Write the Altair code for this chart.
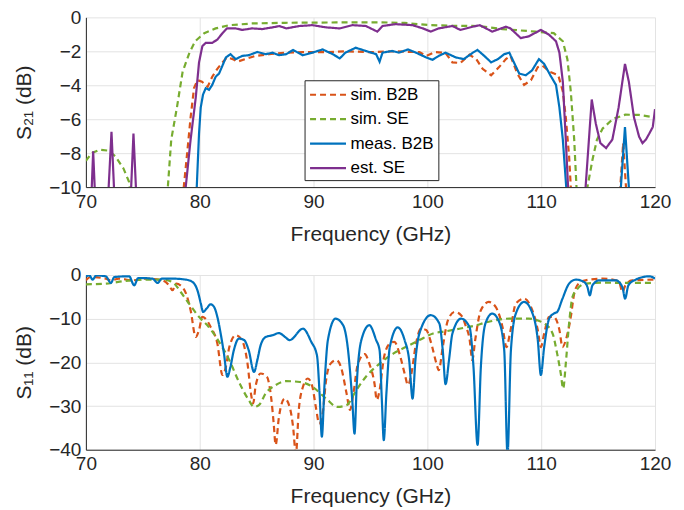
import altair as alt
import pandas as pd

SERIES = ["sim. B2B", "sim. SE", "meas. B2B", "est. SE"]
COLORS = ["#D95319", "#77AC30", "#0072BD", "#7E2F8E"]
DASHES = [[6, 4], [6, 4], [1, 0], [1, 0]]
X_TICKS = [70, 80, 90, 100, 110, 120]
S21_TICKS = [0, -2, -4, -6, -8, -10]
S11_TICKS = [0, -10, -20, -30, -40]

# ---------------- S21 (top) ----------------
s21_simb2b_f = [70, 78.5, 78.6, 78.9, 79.2, 79.5, 79.8, 80.2, 80.7, 81.1, 81.55, 82.0, 82.4, 82.9, 83.3, 84.0, 84.9, 86.1, 87.5, 89, 91, 93, 95, 97, 99.3, 99.9, 100.7, 101.6, 102.2, 102.9, 103.7, 104.3, 104.85, 105.6, 106.3, 106.9, 107.3, 107.9, 108.5, 109.1, 109.7, 110.1, 110.8, 111.5, 111.9, 112.16, 112.45, 112.6, 112.8, 116.8, 116.95, 117.2, 117.45, 117.6, 120]
s21_simb2b_db = [-12, -12, -10, -7.98, -5.89, -4.17, -3.7, -3.79, -4.08, -3.5, -3.03, -2.65, -2.36, -2.46, -2.61, -2.46, -2.27, -2.17, -2.08, -2.05, -2.05, -2.0, -2.05, -2.0, -2.05, -2.27, -2.04, -2.1, -2.65, -2.69, -2.2, -2.46, -3.03, -3.41, -2.93, -2.46, -2.27, -3.31, -3.98, -3.7, -2.93, -2.84, -3.22, -3.41, -4.36, -5.89, -8.17, -10, -12, -12, -10, -7.4, -10, -12, -12]

s21_simse_f = [70, 70.5, 71.2, 72.0, 72.6, 73.3, 73.8, 74.0, 77.0, 77.2, 77.5, 78.0, 78.5, 79.1, 79.6, 80.4, 81.4, 82.6, 84.6, 87.5, 92, 95.8, 98, 100.2, 102.5, 104.5, 106.6, 109.5, 111.1, 111.9, 112.3, 112.6, 112.9, 113.1, 113.3, 113.9, 114.06, 114.5, 114.9, 115.4, 116.3, 117.4, 118.6, 120]
s21_simse_db = [-8.46, -8.0, -7.8, -7.85, -8.2, -8.9, -9.7, -11, -11, -10, -7.2, -5.3, -3.2, -2.08, -1.41, -0.93, -0.65, -0.46, -0.36, -0.32, -0.3, -0.29, -0.33, -0.46, -0.5, -0.51, -0.69, -0.84, -0.93, -1.41, -2.46, -4.36, -7.2, -10, -11, -11, -10, -8.4, -7.2, -6.55, -5.98, -5.73, -5.75, -5.9]

s21_meas_f = [70, 79.6, 79.74, 79.94, 80.09, 80.29, 80.53, 80.82, 81.1, 81.4, 81.7, 82.0, 82.3, 82.7, 83.16, 83.74, 84.3, 85.06, 85.8, 86.4, 86.96, 87.6, 88.2, 89.05, 89.9, 90.8, 91.7, 92.3, 92.8, 93.7, 94.6, 95.5, 95.8, 96.06, 96.9, 97.5, 98.3, 99.0, 99.9, 100.45, 101.0, 101.6, 102.5, 103.2, 104.0, 104.4, 105.0, 105.6, 106.2, 106.75, 107.2, 107.6, 108.07, 108.65, 109.2, 109.8, 110.26, 110.8, 111.3, 111.6, 111.9, 112.2, 112.4, 116.9, 117.0, 117.36, 117.7, 117.8, 120]
s21_meas_db = [-12, -12, -10, -6.84, -5.31, -4.55, -4.17, -4.27, -3.98, -3.5, -3.31, -2.84, -2.36, -2.17, -2.46, -2.27, -2.23, -2.04, -2.17, -2.08, -2.23, -2.17, -1.92, -2.23, -2.08, -1.89, -2.17, -2.42, -2.08, -1.79, -1.98, -2.17, -2.61, -2.08, -1.98, -2.08, -1.89, -2.08, -2.36, -2.5, -2.27, -2.08, -2.36, -2.46, -2.08, -1.92, -2.27, -2.65, -2.46, -2.17, -2.08, -2.65, -3.31, -3.41, -3.12, -2.46, -2.74, -3.41, -3.98, -5.31, -7.2, -10, -12, -12, -10, -6.46, -10, -12, -12]

s21_est_f = [70, 70.4, 70.64, 70.9, 71.85, 72.25, 72.6, 73.85, 74.18, 74.53, 78.6, 78.77, 79.2, 79.65, 79.94, 80.23, 80.53, 81.1, 81.55, 82.0, 82.4, 83.16, 83.74, 84.6, 85.5, 86.4, 87.0, 87.6, 88.75, 89.9, 91.1, 92.3, 93.4, 94.6, 95.6, 96.06, 97.2, 98.7, 99.6, 100.3, 101.0, 102.2, 102.9, 104.0, 104.6, 105.7, 106.9, 107.3, 108.2, 108.9, 109.97, 110.7, 111.3, 111.6, 111.9, 112.16, 112.36, 112.6, 113.7, 113.9, 114.44, 114.8, 115.2, 115.7, 116.25, 116.8, 117.36, 117.7, 118.15, 118.6, 118.9, 119.2, 119.5, 119.8, 120]
s21_est_db = [-12, -12, -7.89, -12, -12, -6.74, -12, -12, -6.84, -12, -12, -10, -7.2, -4.74, -2.65, -1.7, -1.5, -1.5, -1.31, -0.93, -0.65, -0.65, -0.74, -0.65, -0.69, -0.59, -0.51, -0.65, -0.51, -0.46, -0.59, -0.65, -0.46, -0.51, -0.84, -0.51, -0.4, -0.46, -0.65, -0.84, -0.65, -0.51, -0.74, -0.55, -0.46, -0.84, -0.55, -0.65, -1.22, -1.12, -0.74, -1.03, -1.41, -2.08, -3.79, -7.2, -10, -12, -12, -10, -4.84, -6.27, -7.41, -7.7, -7.2, -5.31, -2.74, -3.79, -5.89, -7.03, -7.41, -7.2, -6.84, -6.46, -5.41]

# ---------------- S11 (bottom) ----------------
s11_simb2b_f = [70, 70.4, 71.75, 72.2, 72.9, 74.1, 75.3, 76.7, 77.3, 77.6, 77.95, 78.3, 78.8, 79.2, 79.65, 79.94, 80.23, 80.5, 80.96, 81.55, 82.0, 82.3, 82.6, 83.16, 83.7, 84.2, 84.5, 84.7, 84.9, 85.35, 85.9, 86.3, 86.5, 86.67, 86.96, 87.46, 87.9, 88.2, 88.45, 88.7, 89.07, 89.5, 89.9, 90.2, 90.5, 90.8, 91.1, 91.5, 92.0, 92.4, 92.9, 93.2, 93.5, 93.9, 94.5, 94.9, 95.35, 95.56, 95.8, 96.2, 96.7, 97.1, 97.55, 98.0, 98.3, 98.6, 99.0, 99.45, 99.9, 100.3, 100.8, 101.0, 101.35, 101.8, 102.4, 102.96, 103.4, 103.7, 103.95, 104.2, 104.7, 105.4, 106.0, 106.6, 106.95, 107.25, 107.77, 108.5, 109.1, 109.7, 109.97, 110.26, 110.7, 111.1, 111.6, 111.87, 112.16, 112.6, 112.9, 113.3, 113.9, 115.4, 116.55, 116.9, 117.13, 117.4, 118.0, 120]
s11_simb2b_db = [-1.22, -0.46, -0.84, -1.22, -0.84, -1.22, -0.84, -1.22, -2.36, -3.5, -1.98, -2.36, -4.27, -8.08, -14.2, -12.6, -9.6, -10.0, -11.9, -15.7, -22.9, -21.0, -16.5, -13.8, -14.9, -20.3, -27.1, -29.4, -25.6, -22.55, -23.3, -28.6, -34.0, -38.9, -32.5, -28.3, -30.2, -34.7, -41, -31.0, -25.6, -23.7, -25.6, -30.2, -34.0, -31.7, -24.1, -20.3, -19.5, -21.0, -27.1, -30.9, -27.1, -20.3, -18.1, -20.3, -24.8, -28.6, -26.4, -18.7, -15.7, -15.3, -18.0, -22.55, -25.2, -22.55, -15.7, -12.3, -12.6, -15.3, -20.3, -21.8, -16.5, -10.4, -8.46, -9.2, -11.9, -14.55, -19.5, -14.9, -8.08, -6.17, -7.31, -11.9, -16.5, -13.4, -6.55, -5.41, -7.31, -12.6, -16.5, -13.4, -9.6, -9.6, -12.6, -16.5, -14.9, -9.6, -4.27, -1.98, -1.22, -0.84, -1.22, -2.0, -3.9, -2.36, -1.22, -1.07]

s11_simse_f = [70, 71.75, 73.5, 75.26, 76.7, 77.6, 78.33, 79.06, 79.94, 80.8, 81.7, 82.6, 83.45, 84.3, 84.77, 85.2, 85.8, 86.67, 87.6, 88.8, 89.9, 91.1, 92.1, 92.9, 93.75, 94.6, 95.8, 97.0, 98.1, 99.3, 100.5, 101.6, 102.8, 104.0, 105.4, 107.2, 108.9, 110.26, 111.0, 111.4, 111.72, 111.93, 112.16, 112.45, 112.75, 113.2, 113.9, 115.4, 117.1, 120]
s11_simse_db = [-2.13, -1.98, -1.37, -1.07, -1.07, -1.6, -3.9, -6.55, -9.6, -11.9, -15.3, -19.5, -24.5, -28.6, -30.2, -29.8, -27.1, -25.2, -24.3, -24.5, -25.6, -28.3, -30.2, -29.8, -26.4, -23.3, -20.3, -18.0, -16.5, -14.9, -13.4, -12.9, -12.3, -11.7, -10.7, -10.0, -10.0, -11.1, -13.4, -18.0, -22.55, -26.0, -20.3, -11.1, -5.03, -3.12, -1.98, -1.75, -1.83, -1.83]

s11_meas_f = [70, 70.3, 70.6, 70.9, 71.75, 72.2, 72.5, 73.8, 74.24, 74.6, 75.85, 76.3, 76.67, 77.6, 78.8, 79.36, 79.8, 80.1, 80.3, 80.6, 80.96, 81.26, 81.55, 81.84, 82.13, 82.43, 82.7, 83.0, 83.45, 83.9, 84.3, 84.77, 85.06, 85.35, 85.8, 86.4, 86.96, 87.5, 87.9, 89.07, 89.8, 90.3, 90.53, 90.73, 90.97, 91.26, 91.93, 92.6, 93.0, 93.4, 93.6, 93.8, 94.2, 94.9, 95.5, 95.8, 96.0, 96.17, 96.4, 96.7, 97.4, 98.0, 98.4, 98.7, 98.95, 99.3, 100.3, 101.05, 101.35, 101.6, 101.9, 102.2, 102.96, 103.7, 104.05, 104.41, 104.7, 105.1, 105.7, 106.3, 106.75, 107.04, 107.34, 107.77, 108.5, 109.24, 109.7, 109.97, 110.26, 110.7, 111.1, 111.4, 111.87, 112.45, 113.04, 113.77, 114.06, 114.27, 114.5, 115.1, 116.55, 117.13, 117.37, 117.66, 118.3, 119.5, 120]
s11_meas_db = [-0.3, -0.1, -1.07, -0.1, -0.3, -1.83, -0.46, -0.3, -2.36, -0.69, -0.84, -1.83, -0.84, -0.84, -1.07, -1.6, -3.5, -6.55, -8.46, -7.7, -6.7, -7.31, -9.6, -13.4, -18.0, -23.3, -21.0, -17.2, -14.55, -14.9, -17.2, -22.2, -19.5, -16.1, -14.2, -13.8, -13.3, -14.2, -14.9, -12.3, -15.3, -18.4, -27.1, -37.0, -24.8, -14.9, -10.0, -11.5, -16.5, -28.6, -36.3, -24.8, -14.9, -11.5, -14.9, -17.2, -28.6, -37.8, -27.1, -16.5, -12.0, -14.9, -19.5, -28.3, -19.5, -13.4, -9.2, -11.1, -17.2, -25.0, -19.5, -13.4, -10.0, -11.9, -21.0, -38.9, -21.0, -11.1, -8.84, -10.7, -17.2, -41, -17.2, -8.84, -6.17, -8.84, -14.9, -22.9, -16.5, -10.0, -8.84, -8.46, -5.41, -1.98, -1.07, -1.6, -2.74, -4.65, -2.36, -1.22, -1.22, -2.74, -5.41, -2.36, -1.07, -0.3, -0.84]


def frame(f, v, name):
    return pd.DataFrame({"f": f, "db": v, "series": name})


top_df = pd.concat([
    frame(s21_simb2b_f, s21_simb2b_db, SERIES[0]),
    frame(s21_simse_f, s21_simse_db, SERIES[1]),
    frame(s21_meas_f, s21_meas_db, SERIES[2]),
    frame(s21_est_f, s21_est_db, SERIES[3]),
], ignore_index=True)
top_df["order"] = top_df.index

bot_df = pd.concat([
    frame(s11_simb2b_f, s11_simb2b_db, SERIES[0]),
    frame(s11_simse_f, s11_simse_db, SERIES[1]),
    frame(s11_meas_f, s11_meas_db, SERIES[2]),
], ignore_index=True)
bot_df["order"] = bot_df.index

color_scale = alt.Scale(domain=SERIES, range=COLORS)
dash_scale = alt.Scale(domain=SERIES, range=DASHES)

FONT = "Liberation Sans"
TXT = "#262626"

legend_top = alt.Legend(
    title=None, orient="none", legendX=219, legendY=63,
    symbolType="M-1,0H3", symbolSize=324, symbolStrokeWidth=2.2,
    labelFontSize=17, labelFont=FONT, labelColor="#000000",
    fillColor="white", strokeColor="#262626", padding=4,
    rowPadding=5.5, labelOffset=21,
)


def panel(df, names, ydomain, yticks, ytitle, legend, interp, h):
    layers = []
    for s in names:
        layers.append(
            alt.Chart(df)
            .transform_filter(alt.datum.series == s)
            .mark_line(clip=True, strokeWidth=2.2, interpolate=interp)
            .encode(
                x=alt.X("f:Q", scale=alt.Scale(domain=[70, 120], nice=False, zero=False),
                        axis=alt.Axis(values=X_TICKS, title="Frequency (GHz)")),
                y=alt.Y("db:Q", scale=alt.Scale(domain=ydomain, nice=False, zero=False),
                        axis=alt.Axis(values=yticks, title=ytitle)),
                color=alt.Color("series:N", scale=color_scale, legend=legend),
                strokeDash=alt.StrokeDash("series:N", scale=dash_scale, legend=legend),
                order="order:Q",
            )
        )
    return alt.layer(*layers).properties(width=570, height=h)


top = panel(top_df, SERIES, [-10, 0], S21_TICKS, "S\u2082\u2081 (dB)", legend_top, "linear", 170)
bottom = panel(bot_df, SERIES[:3], [-40, 0], S11_TICKS, "S\u2081\u2081 (dB)", None, "monotone", 175)

chart = (
    alt.vconcat(top, bottom, spacing=22)
    .resolve_scale(color="independent", strokeDash="independent")
    .properties(padding={"left": 5, "top": 0, "right": 5, "bottom": 0})
    .configure_view(stroke=None)
    .configure_axis(
        domainColor=TXT, domainWidth=1, ticks=False, labelFlush=False,
        grid=True, gridColor="#e3e3e3", gridWidth=1,
        labelFont=FONT, labelFontSize=19, labelColor=TXT, labelPadding=5,
        titleFont=FONT, titleFontSize=21, titleFontWeight="normal", titleColor=TXT,
    )
    .configure_axisY(titlePadding=14)
    .configure_axisX(titlePadding=12)
)

chart.save("out.html", embed_options={"renderer": "svg", "actions": False})
